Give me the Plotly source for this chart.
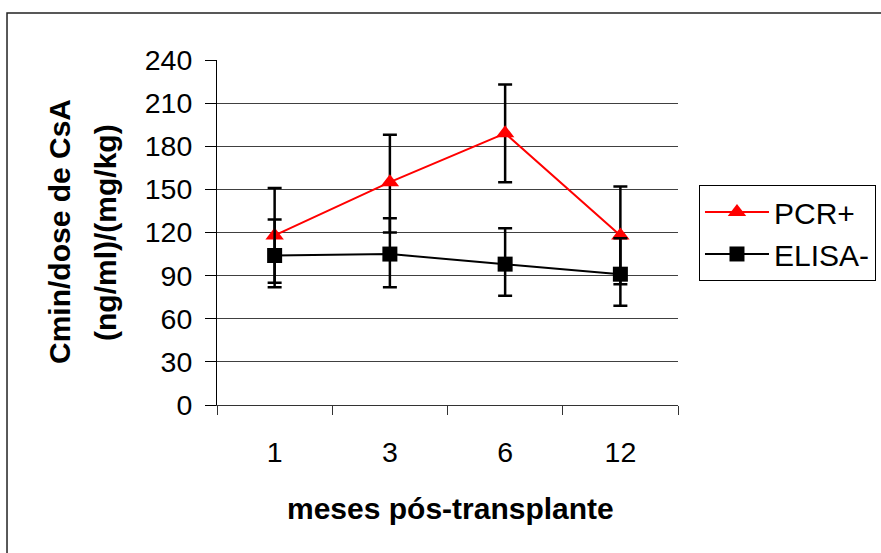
import plotly.graph_objects as go

months = ["1", "3", "6", "12"]
pcr_vals = [118, 155, 189, 118]
pcr_err_plus = [33, 33, 34, 34]
pcr_err_minus = [33, 35, 34, 34]
elisa_vals = [104, 105, 98, 91]
elisa_err_plus = [25, 25, 25, 25]
elisa_err_minus = [22, 23, 22, 22]
y_ticks = [0, 30, 60, 90, 120, 150, 180, 210, 240]

FONT = "Arial, Liberation Sans, sans-serif"

fig = go.Figure()
fig.add_trace(go.Scatter(
    x=months, y=pcr_vals, name="PCR+", mode="lines+markers",
    line=dict(color="#ff0000", width=2),
    marker=dict(symbol="triangle-up", size=16, color="#ff0000"),
    error_y=dict(type="data", symmetric=False, array=pcr_err_plus,
                 arrayminus=pcr_err_minus, color="black", thickness=2.5, width=7),
))
fig.add_trace(go.Scatter(
    x=months, y=elisa_vals, name="ELISA-", mode="lines+markers",
    line=dict(color="black", width=2),
    marker=dict(symbol="square", size=15, color="black"),
    error_y=dict(type="data", symmetric=False, array=elisa_err_plus,
                 arrayminus=elisa_err_minus, color="black", thickness=2.5, width=7),
))

fig.update_layout(
    width=881, height=553,
    margin=dict(l=217, r=203, t=60, b=148),
    paper_bgcolor="white", plot_bgcolor="white",
    font=dict(family=FONT, size=28.5, color="black"),
    showlegend=True,
    legend=dict(xref="container", yref="container", x=0.7934, y=0.6655,
                xanchor="left", yanchor="top",
                bordercolor="black", borderwidth=1, bgcolor="white",
                font=dict(size=30), itemwidth=64, traceorder="normal"),
    xaxis=dict(type="category", range=[-0.5, 3.5], tickson="boundaries",
               ticks="outside", ticklen=9, tickcolor="#333", showline=True,
               linecolor="#333", linewidth=1, showgrid=False,
               ticklabelstandoff=22, tickfont=dict(size=28.5)),
    yaxis=dict(range=[0, 240], tickvals=y_ticks, ticks="outside", ticklen=11,
               tickcolor="black", showline=True, linecolor="black", linewidth=1,
               showgrid=True, gridcolor="#404040", gridwidth=1, zeroline=False,
               ticklabelstandoff=7, tickfont=dict(size=28.5)),
    annotations=[
        dict(text="<b>meses pós-transplante</b>", xref="paper", yref="paper",
             x=0.507, y=-0.2986, xanchor="center", yanchor="middle",
             showarrow=False, font=dict(size=30)),
        dict(text="<b>Cmin/dose de CsA</b>", xref="paper", yref="paper",
             x=-0.3427, y=0.5014, xanchor="center", yanchor="middle",
             textangle=-90, showarrow=False, font=dict(size=30)),
        dict(text="<b>(ng/ml)/(mg/kg)</b>", xref="paper", yref="paper",
             x=-0.2430, y=0.5014, xanchor="center", yanchor="middle",
             textangle=-90, showarrow=False, font=dict(size=30)),
    ],
    shapes=[dict(type="rect", xref="paper", yref="paper",
                 x0=-0.4555, x1=1.6, y0=-0.6, y1=1.1362,
                 line=dict(color="#222", width=1.5), layer="below")],
)

fig.write_html("out.html", config={"displayModeBar": False},
               post_script="document.body.style.margin='0';document.body.style.overflow='hidden';")
